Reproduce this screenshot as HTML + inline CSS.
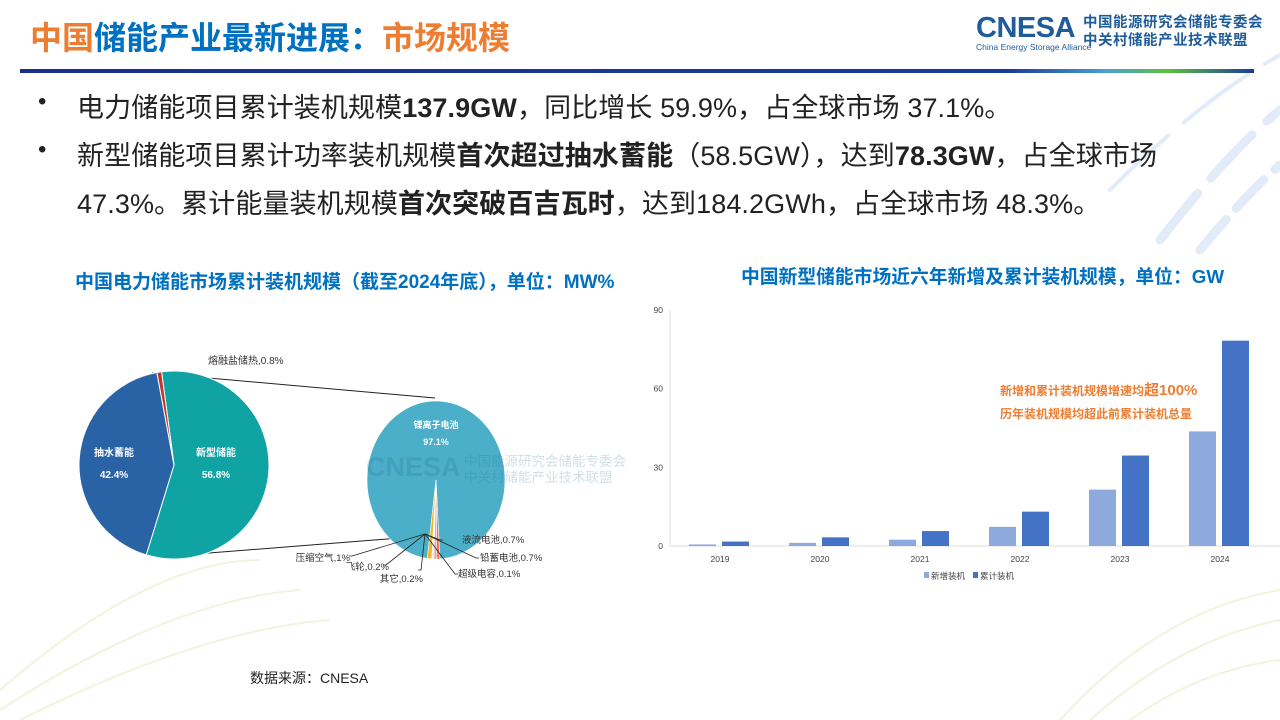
<!DOCTYPE html>
<html><head><meta charset="utf-8">
<style>
body{margin:0;width:1280px;height:720px;overflow:hidden;background:#fff;font-family:"Liberation Sans","Noto Sans CJK SC",sans-serif;position:relative}
.abs{position:absolute;white-space:nowrap}
.body-line{font-size:27px;color:#222;left:77px;letter-spacing:0.1px}
.bullet{left:38px;font-size:24px;color:#222}
b{font-weight:bold}
</style></head><body>
<svg class="abs" style="left:0;top:0" width="1280" height="720">
 <g stroke="#dbe7f7" stroke-width="9" fill="none" stroke-linecap="round" opacity="0.8">
  <path d="M1160 240 Q1230 150 1280 110" stroke-dasharray="60 20"/>
  <path d="M1200 250 Q1250 190 1280 165" stroke-dasharray="40 15"/>
  <path d="M1110 190 Q1200 100 1280 55" stroke-width="4" stroke-dasharray="80 20"/>
 </g>
 <g stroke="#eef5dc" stroke-width="2" fill="none">
  <path d="M0 690 Q150 560 260 560"/><path d="M0 710 Q170 600 300 590"/><path d="M20 720 Q200 630 330 620"/>
  <path d="M1090 720 Q1180 640 1280 620"/><path d="M1130 720 Q1200 670 1280 660"/><path d="M1060 720 Q1160 610 1280 590"/>
 </g>
</svg>
<div class="abs" style="left:30px;top:13px;font-size:32px;font-weight:bold;color:#0070c0"><span style="color:#ed7d31">中国</span>储能产业最新进展：<span style="color:#ed7d31">市场规模</span></div>
<div class="abs" style="left:976px;top:14px">
 <div style="font-size:29px;font-weight:bold;color:#1f5c99;letter-spacing:-0.5px;line-height:28px">CNESA</div>
 <div style="font-size:8.5px;color:#1f5c99;line-height:10px">China Energy Storage Alliance</div>
</div>
<div class="abs" style="left:1083px;top:14px;font-size:14.5px;line-height:18px;color:#1f5c99;font-weight:bold;letter-spacing:0.5px">中国能源研究会储能专委会<br>中关村储能产业技术联盟</div>
<div class="abs" style="left:20px;top:69px;width:1234px;height:4px;background:linear-gradient(90deg,#1a2f8a 0%,#1a3a9a 80%,#4aa0d0 88%,#5fc040 93%,#1a3a9a 100%)"></div>
<div class="abs bullet" style="top:88px">•</div>
<div class="abs body-line" style="top:86px">电力储能项目累计装机规模<b>137.9GW</b>，同比增长 59.9%，占全球市场 37.1%。</div>
<div class="abs bullet" style="top:136px">•</div>
<div class="abs body-line" style="top:134px">新型储能项目累计功率装机规模<b>首次超过抽水蓄能</b>（58.5GW），达到<b>78.3GW</b>，占全球市场</div>
<div class="abs body-line" style="top:182px">47.3%。累计能量装机规模<b>首次突破百吉瓦时</b>，达到184.2GWh，占全球市场 48.3%。</div>

<div class="abs" style="left:75px;top:267px;font-size:19px;font-weight:bold;color:#0070c0">中国电力储能市场累计装机规模（截至2024年底），单位：MW%</div>
<div class="abs" style="left:741px;top:262px;font-size:18.8px;font-weight:bold;color:#0070c0">中国新型储能市场近六年新增及累计装机规模，单位：GW</div>

<svg id="pie" class="abs" style="left:0;top:0" width="640" height="720"></svg>
<svg id="bar" class="abs" style="left:0;top:0" width="1280" height="720"></svg>
<div class="abs" style="left:250px;top:668px;font-size:14px;color:#222">数据来源：CNESA</div>

<script>
const NS="http://www.w3.org/2000/svg";
function mk(p,t,a){const e=document.createElementNS(NS,t);for(const k in a)e.setAttribute(k,a[k]);p.appendChild(e);return e;}
// ---------- Pie data ----------
const mainNames=["新型储能","抽水蓄能","熔融盐储热"];
const mainValues=[56.8,42.4,0.8];
const mainColors=["#0fa3a3","#2a62a6","#c0392b"];
const subNames=["锂离子电池","液流电池","铅蓄电池","超级电容","其它","飞轮","压缩空气"];
const subValues=[97.1,0.7,0.7,0.1,0.2,0.2,1.0];
const subColors=["#4bafc9","#e8724a","#f2a0a0","#c8c8c8","#9e9e9e","#ffe08a","#f0b428"];
const pie=document.getElementById('pie');
function arc(cx,cy,rx,ry,a0,a1){const p=a=>[cx+rx*Math.sin(a*Math.PI/180),cy-ry*Math.cos(a*Math.PI/180)];
 const [x0,y0]=p(a0),[x1,y1]=p(a1);return `M${cx},${cy}L${x0},${y0}A${rx},${ry} 0 ${a1-a0>180?1:0} 1 ${x1},${y1}Z`;}
mk(pie,'line',{x1:152,y1:373,x2:435,y2:398,stroke:'#222','stroke-width':1});
mk(pie,'line',{x1:158,y1:557,x2:425,y2:536,stroke:'#222','stroke-width':1});
let a=-7.5;
mainValues.forEach((v,i)=>{const s=v/100*360;const e=mk(pie,'path',{d:arc(174,465,95,94,a,a+s),fill:mainColors[i],stroke:'#fff','stroke-width':1});
 
 a+=s;});
const tot=subValues.reduce((x,y)=>x+y,0);
let b=-(subValues[0]/tot*360)/2+2;
subValues.forEach((v,i)=>{const s=v/tot*360;const e=mk(pie,'path',{d:arc(436,480,69,79,b,b+s),fill:subColors[i],stroke:'#fff','stroke-width':0.6});
 
 b+=s;});
function txt(p,x,y,s,o){const t=mk(p,'text',Object.assign({x:x,y:y,'font-size':10,fill:'#333','font-family':'"Liberation Sans","Noto Sans CJK SC",sans-serif'},o||{}));t.textContent=s;return t;}
let t;
t=txt(pie,114,456,mainNames[1],{fill:'#fff','font-weight':'bold','text-anchor':'middle'});
t=txt(pie,114,478,mainValues[1]+'%',{fill:'#fff','font-weight':'bold','text-anchor':'middle'});
t=txt(pie,216,456,mainNames[0],{fill:'#fff','font-weight':'bold','text-anchor':'middle'});
t=txt(pie,216,478,mainValues[0]+'%',{fill:'#fff','font-weight':'bold','text-anchor':'middle'});
t=txt(pie,208,364,mainNames[2]+','+mainValues[2]+'%');
t=txt(pie,436,428,subNames[0],{fill:'#fff','font-weight':'bold','text-anchor':'middle',"font-size":9});
t=txt(pie,436,445,subValues[0]+'%',{fill:'#fff','font-weight':'bold','text-anchor':'middle',"font-size":9});
t=txt(pie,366,476,'CNESA',{'font-size':27,'font-weight':'bold',fill:'#2a6f96',opacity:0.22});
t=txt(pie,464,466,'中国能源研究会储能专委会',{'font-size':13.5,fill:'#2a6f96',opacity:0.22});
t=txt(pie,464,482,'中关村储能产业技术联盟',{'font-size':13.5,fill:'#2a6f96',opacity:0.22});
const lab=[[1,462,543,'start',440,540],[2,480,561,'start',476,558],[3,458,577,'start',455,574],[4,423,582,'end',421,570],[5,389,570,'end',386,565],[6,350,561,'end',352,556]];
lab.forEach(l=>{const [i,x,y,an,lx,ly]=l;
 const ln=mk(pie,'polyline',{points:`425,534 ${lx},${ly} ${an=='start'?lx+3:lx-3},${ly}`,fill:'none',stroke:'#222','stroke-width':0.8});
 
 const tt=txt(pie,x,y,subNames[i]+','+subValues[i]+'%',{'text-anchor':an,'font-size':9.5});
 });

// ---------- Bar data ----------
const years=["2019","2020","2021","2022","2023","2024"];
const newInstall=[0.6,1.2,2.4,7.3,21.5,43.7];
const cumInstall=[1.7,3.3,5.7,13.1,34.5,78.3];
const yTicks=[0,30,60,90];
const bar=document.getElementById('bar');
const y0=546,yTop=310,xL=670,xR=1280;
const ys=v=>y0-(v/90)*(y0-yTop);
const band=(xR-xL-10)/years.length;
const xc=i=>xL+band*(i+0.5);
mk(bar,'line',{x1:xL,y1:yTop,x2:xL,y2:y0,stroke:'#ddd'});
mk(bar,'line',{x1:xL,y1:y0,x2:xR,y2:y0,stroke:'#ddd'});
yTicks.forEach(v=>{const e=txt(bar,xL-7,ys(v)+3,String(v),{'text-anchor':'end','font-size':8.5,fill:'#444'});});
years.forEach((yr,i)=>{
 const c=xc(i);
 const r1=mk(bar,'rect',{x:c-31,y:ys(newInstall[i]),width:27,height:y0-ys(newInstall[i]),fill:'#8eaadc'});
 
 
 const r2=mk(bar,'rect',{x:c+2,y:ys(cumInstall[i]),width:27,height:y0-ys(cumInstall[i]),fill:'#4472c4'});
 
 
 const e=txt(bar,c,562,yr,{'text-anchor':'middle','font-size':8.5,fill:'#444'});
});
mk(bar,'rect',{x:924,y:572,width:5,height:6,fill:'#8eaadc'});
t=txt(bar,931,579,'新增装机',{'font-size':8.5,fill:'#444'});
mk(bar,'rect',{x:973,y:572,width:5,height:6,fill:'#4472c4'});
t=txt(bar,980,579,'累计装机',{'font-size':8.5,fill:'#444'});
t=txt(bar,1000,395,'新增和累计装机规模增速均',{'font-size':12,'font-weight':'bold',fill:'#ed7d31'});
const ts=mk(bar,'tspan',{'font-size':15});ts.textContent='超100%';t.appendChild(ts);
t=txt(bar,1000,418,'历年装机规模均超此前累计装机总量',{'font-size':12,'font-weight':'bold',fill:'#ed7d31'});
</script>
</body></html>
